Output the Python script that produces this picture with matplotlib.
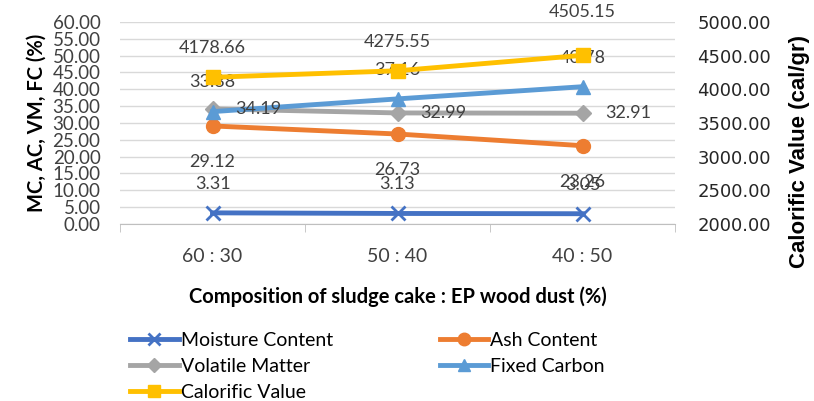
import matplotlib
matplotlib.use("Agg")
import matplotlib.pyplot as plt
from matplotlib.ticker import FormatStrFormatter, FixedLocator

plt.rcParams['font.family'] = ['Lato', 'DejaVu Sans']

categories = ["60 : 30", "50 : 40", "40 : 50"]
moisture = [3.31, 3.13, 3.05]
ash = [29.12, 26.73, 23.26]
volatile = [34.19, 32.99, 32.91]
fixed_carbon = [33.38, 37.16, 40.78]
calorific = [4178.66, 4275.55, 4505.15]

fig = plt.figure(figsize=(8.14, 4.01), dpi=100)
ax = fig.add_axes([120/814, 1-224/401, 555/814, 202/401])
ax2 = ax.twinx()

x = list(range(len(categories)))
lw = 3.5
txt = '#404040'

h1, = ax.plot(x, moisture, color='#4472C4', lw=lw, marker='x', ms=10, mew=2, label='Moisture Content', zorder=3)
h2, = ax.plot(x, ash, color='#ED7D31', lw=lw, marker='o', ms=10, label='Ash Content', zorder=3)
h3, = ax.plot(x, volatile, color='#A5A5A5', lw=lw, marker='D', ms=8, label='Volatile Matter', zorder=3)
h4, = ax.plot(x, fixed_carbon, color='#5B9BD5', lw=lw, marker='^', ms=10, label='Fixed Carbon', zorder=3)
h5, = ax2.plot(x, calorific, color='#FFC000', lw=lw, marker='s', ms=10, label='Calorific Value', zorder=3)

fs = 13
for xi, v in zip(x, moisture):
    ax.annotate(f"{v:.2f}", (xi, v), xytext=(0, 21), textcoords='offset points', ha='center', va='center', fontsize=fs, color=txt)
for xi, v in zip(x, ash):
    ax.annotate(f"{v:.2f}", (xi, v), xytext=(0, -26), textcoords='offset points', ha='center', va='center', fontsize=fs, color=txt)
for xi, v in zip(x, volatile):
    ax.annotate(f"{v:.2f}", (xi, v), xytext=(16, 0), textcoords='offset points', ha='left', va='center', fontsize=fs, color=txt)
for xi, v in zip(x, fixed_carbon):
    ax.annotate(f"{v:.2f}", (xi, v), xytext=(0, 21), textcoords='offset points', ha='center', va='center', fontsize=fs, color=txt)
cal_off = [21, 21, 31]
for xi, v, o in zip(x, calorific, cal_off):
    ax2.annotate(f"{v:.2f}", (xi, v), xytext=(0, o), textcoords='offset points', ha='center', va='center', fontsize=fs, color=txt)

ax.set_xlim(-0.5, 2.5)
ax.set_ylim(0, 60)
ax2.set_ylim(2000, 5000)
ax.set_yticks([i*5 for i in range(13)])
ax2.set_yticks([2000 + i*500 for i in range(7)])
ax.yaxis.set_major_formatter(FormatStrFormatter('%.2f'))
ax2.yaxis.set_major_formatter(FormatStrFormatter('%.2f'))
ax.set_xticks(x)
ax.set_xticklabels(categories)
ax.xaxis.set_minor_locator(FixedLocator([-0.5, 0.5, 1.5, 2.5]))
ax.tick_params(axis='x', which='major', length=0, labelsize=14, colors=txt, pad=17)
ax.tick_params(axis='x', which='minor', length=6, color='#BFBFBF', direction='out')
ax.tick_params(axis='y', length=0, labelsize=13.5, colors=txt, pad=14)
ax2.tick_params(axis='y', length=0, labelsize=13, colors=txt, pad=16)
for lab in ax2.get_yticklabels():
    lab.set_family('DejaVu Sans')
    lab.set_color('#262626')

ax.grid(axis='y', color='#D9D9D9', lw=1)
ax.set_axisbelow(True)
for a in (ax, ax2):
    for s in ['top', 'left', 'right', 'bottom']:
        a.spines[s].set_visible(False)
ax.spines['bottom'].set_visible(True)
ax.spines['bottom'].set_color('#BFBFBF')

ax.set_ylabel("MC, AC, VM, FC (%)", fontsize=14.5, fontweight='bold', color='black', labelpad=4)
ax2.set_ylabel("Calorific Value (cal/gr)", fontsize=16, fontweight='bold', color='black',
               family='Liberation Sans', va='center')
ax2.yaxis.set_label_coords(1.225, 0.36)
ax.set_xlabel("Composition of sludge cake : EP wood dust (%)", fontsize=14.5, fontweight='bold', color='black', labelpad=16)

fig.legend([h1, h3, h5, h2, h4],
           ['Moisture Content', 'Volatile Matter', 'Calorific Value', 'Ash Content', 'Fixed Carbon'],
           ncol=2, loc='upper left', bbox_to_anchor=(130/814, 1-332/401), frameon=False,
           fontsize=14, handlelength=2.5, handletextpad=0.1, columnspacing=5.5,
           labelspacing=0.45, borderaxespad=0, borderpad=0, labelcolor='black', markerscale=0.9)

fig.savefig("out.png", dpi=100)
